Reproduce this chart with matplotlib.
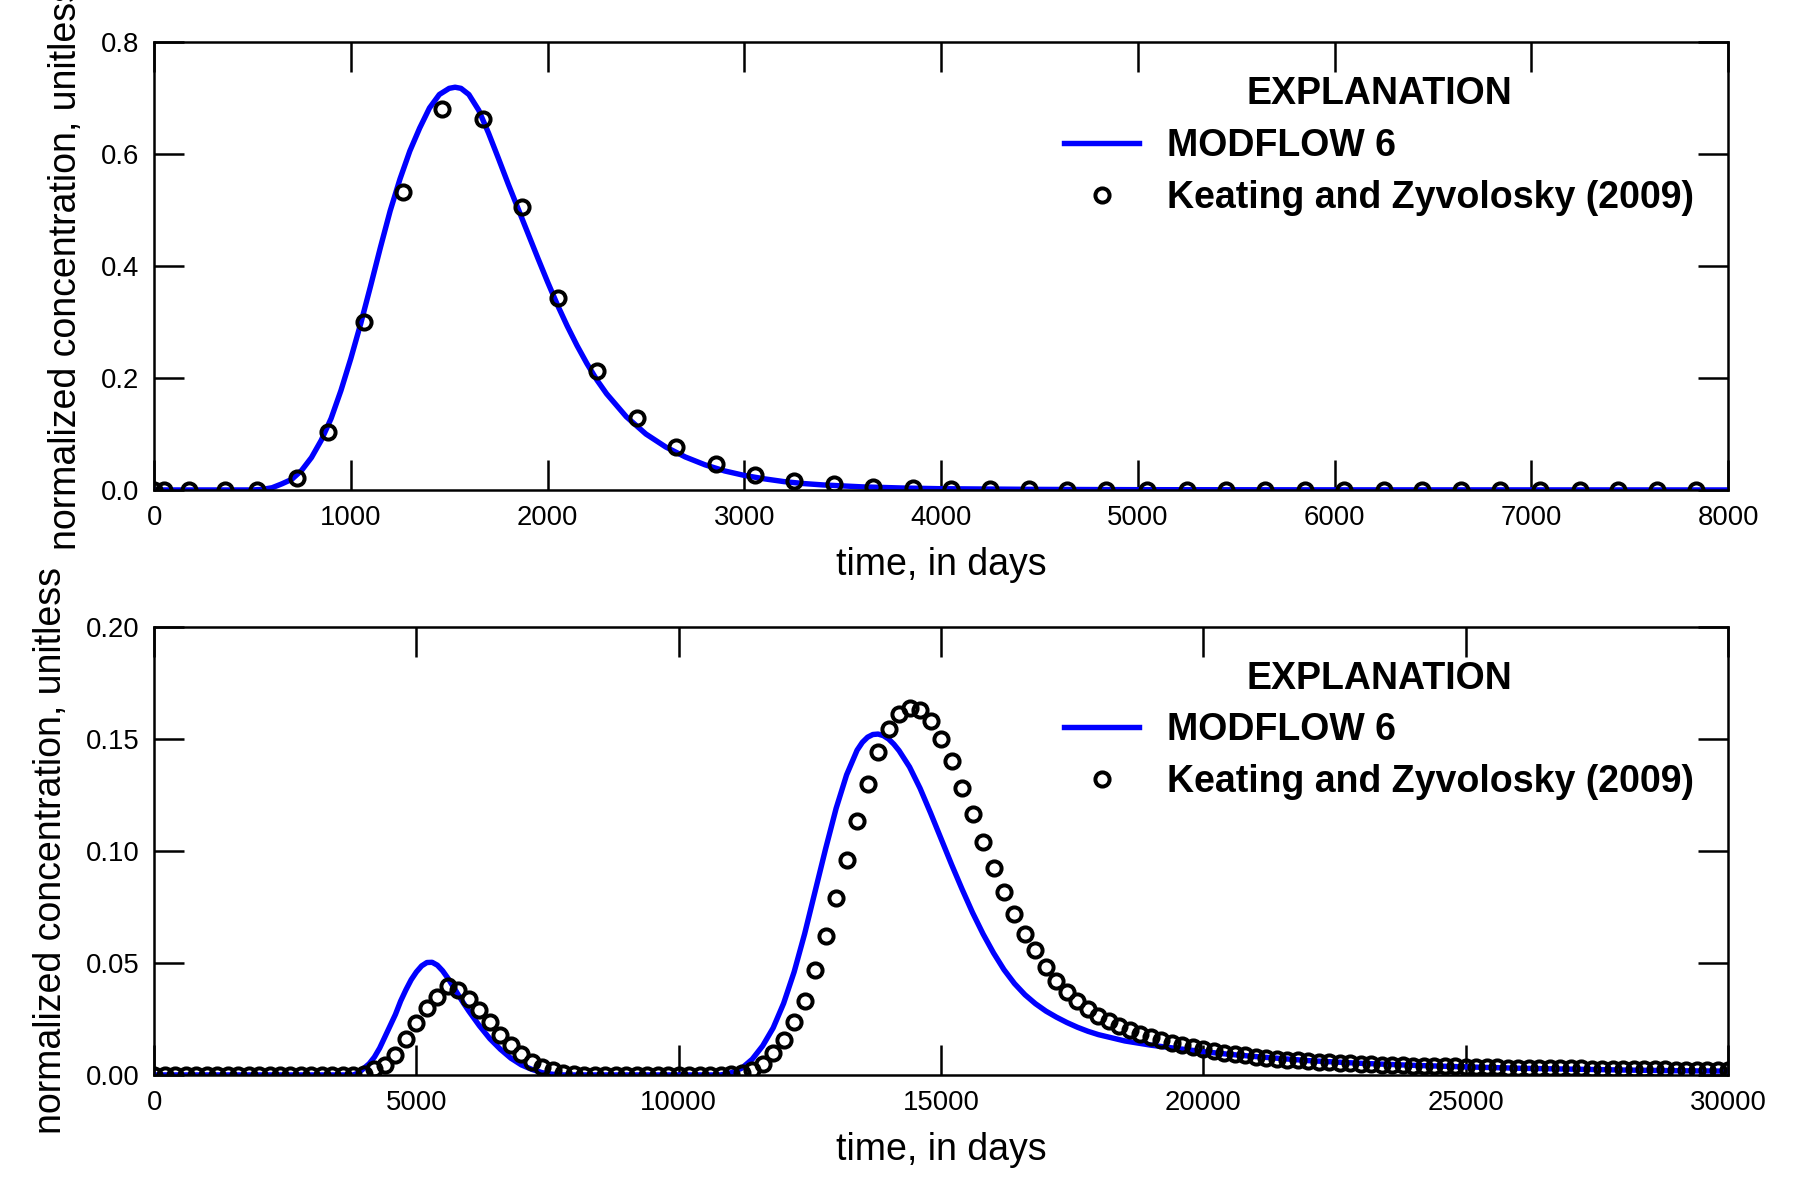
import numpy as np
import matplotlib
matplotlib.use("Agg")
import matplotlib.pyplot as plt

plt.rcParams["font.family"] = ["Liberation Sans", "DejaVu Sans"]

# ---- top panel: MODFLOW 6 line
t_top_mf6 = [0, 500, 550, 600, 650, 700, 750, 800, 850, 900, 950, 1000, 1050,
             1100, 1150, 1200, 1250, 1300, 1350, 1400, 1450, 1500, 1530, 1560,
             1600, 1650, 1700, 1750, 1800, 1850, 1900, 1950, 2000, 2050, 2100,
             2150, 2200, 2250, 2300, 2400, 2500, 2600, 2700, 2800, 2900, 3000,
             3100, 3200, 3300, 3400, 3600, 3800, 4000, 4500, 5000, 6000, 8000]
c_top_mf6 = [0.0, 0.0, 0.001, 0.004, 0.011, 0.019, 0.035, 0.058, 0.089, 0.128,
             0.178, 0.235, 0.297, 0.364, 0.433, 0.499, 0.556, 0.606, 0.647,
             0.683, 0.707, 0.718, 0.720, 0.718, 0.707, 0.679, 0.638, 0.593,
             0.547, 0.503, 0.459, 0.415, 0.372, 0.331, 0.293, 0.258, 0.226,
             0.197, 0.172, 0.131, 0.100, 0.077, 0.059, 0.045, 0.034, 0.026,
             0.020, 0.015, 0.0115, 0.009, 0.0055, 0.0035, 0.0022, 0.001, 0.0005,
             0.0002, 0.0]

# ---- top panel: Keating and Zyvolosky (2009) points
t_top_kz = [0, 50, 175, 360, 525, 725, 885, 1065, 1265, 1465, 1670, 1870, 2055,
            2250, 2455, 2655, 2855, 3055, 3255, 3455, 3655, 3855, 4050, 4250,
            4445, 4640, 4840, 5045, 5250, 5450, 5645, 5850, 6050, 6250, 6445,
            6645, 6840, 7045, 7250, 7440, 7640, 7835]
c_top_kz = [0.0, 0.0, 0.0, 0.0, 0.0, 0.021, 0.104, 0.300, 0.532, 0.681, 0.663,
            0.505, 0.343, 0.212, 0.128, 0.077, 0.0465, 0.027, 0.016, 0.010,
            0.006, 0.004, 0.002, 0.0015, 0.001, 0.0008, 0.0006, 0.0005, 0.0004,
            0.0003, 0.0002, 0.0002, 0.0001, 0.0001, 0.0, 0.0, 0.0, 0.0, 0.0,
            0.0, 0.0, 0.0]

# ---- bottom panel: MODFLOW 6 line
t_bot_mf6 = [0, 3800, 3900, 4000, 4100, 4200, 4300, 4400, 4500, 4600, 4700, 4800,
             4900, 5000, 5100, 5200, 5300, 5400, 5500, 5600, 5700, 5800, 5900,
             6000, 6200, 6400, 6600, 6800, 7000, 7200, 7400, 7600, 7800, 10800,
             11000, 11200, 11400, 11600, 11800, 12000, 12200, 12400, 12600, 12800,
             13000, 13200, 13400, 13500, 13600, 13700, 13800, 13900, 14000, 14100,
             14200, 14400, 14600, 14800, 15000, 15200, 15400, 15600, 15800, 16000,
             16200, 16400, 16600, 16800, 17000, 17200, 17400, 17600, 17800, 18000,
             18500, 19000, 19500, 20000, 20500, 21000, 22000, 23000, 24000, 25000,
             26000, 27000, 28000, 29000, 30000]
c_bot_mf6 = [0.0, 0.0, 0.001, 0.003, 0.005, 0.008, 0.012, 0.017, 0.022, 0.027,
             0.033, 0.038, 0.0425, 0.046, 0.0487, 0.0502, 0.0503, 0.049, 0.0465,
             0.0432, 0.0395, 0.0357, 0.032, 0.0285, 0.022, 0.0162, 0.0115, 0.0075,
             0.0045, 0.0025, 0.001, 0.0003, 0.0, 0.0,
             0.001, 0.003, 0.007, 0.013, 0.021, 0.032, 0.046, 0.063, 0.082, 0.101,
             0.119, 0.134, 0.145, 0.1485, 0.1508, 0.152, 0.1522, 0.1515, 0.150,
             0.1477, 0.1448, 0.1375, 0.128, 0.117, 0.1055, 0.094, 0.083, 0.0725,
             0.063, 0.0545, 0.047, 0.0408, 0.0358, 0.0318, 0.0285, 0.0258, 0.0234,
             0.0213, 0.0195, 0.018, 0.0152, 0.0133, 0.0118, 0.0104, 0.0092, 0.0082,
             0.0064, 0.0052, 0.0043, 0.0036, 0.0030, 0.0026, 0.0022, 0.0019, 0.0017]

# ---- bottom panel: Keating and Zyvolosky (2009) points, every 200 days
t_bot_kz = np.arange(0, 30001, 200)
c_bot_kz = [0.0] * 20 + [
    0.0005,
    0.0025, 0.0045, 0.009, 0.016, 0.023, 0.030, 0.035, 0.0395, 0.038, 0.034,
    0.029, 0.0235, 0.018, 0.0135, 0.0095, 0.006, 0.0035, 0.002, 0.001, 0.0005,
] + [0.0] * 14 + [
    0.0005, 0.001, 0.002, 0.005, 0.010, 0.0157, 0.0235, 0.033, 0.047, 0.062,
    0.079, 0.096, 0.1135, 0.130, 0.144, 0.1545, 0.161, 0.1637, 0.1628, 0.158,
    0.150, 0.140, 0.128, 0.1165, 0.104, 0.0925, 0.0816, 0.0717, 0.0629, 0.0558,
    0.0484, 0.0420, 0.0370, 0.0328, 0.0293, 0.0264, 0.0240, 0.0219, 0.0200, 0.0184,
    0.0169, 0.0156, 0.0144, 0.0133, 0.0123, 0.0114, 0.0106, 0.0099, 0.0093, 0.0087,
    0.0082, 0.0077, 0.0073, 0.0069, 0.0065, 0.0062, 0.0059, 0.0056, 0.0054, 0.0052,
    0.0050, 0.0048, 0.0046, 0.0045, 0.0043, 0.0042, 0.0041, 0.0040, 0.0039, 0.0038,
    0.0037, 0.0036, 0.0035, 0.0034, 0.0033, 0.0033, 0.0032, 0.0031, 0.0031, 0.0030,
    0.0029, 0.0029, 0.0028, 0.0028, 0.0027, 0.0027, 0.0026, 0.0026, 0.0025, 0.0025,
    0.0024, 0.0024, 0.0024, 0.0023, 0.0023, 0.0023,
]

xticks_top = [0, 1000, 2000, 3000, 4000, 5000, 6000, 7000, 8000]
yticks_top = [0.0, 0.2, 0.4, 0.6, 0.8]
xticks_bot = [0, 5000, 10000, 15000, 20000, 25000, 30000]
yticks_bot = [0.00, 0.05, 0.10, 0.15, 0.20]

fig = plt.figure(figsize=(6, 4), dpi=300)
ax1 = fig.add_axes([0.0856, 0.5917, 0.8744, 0.3729])
ax2 = fig.add_axes([0.0856, 0.1042, 0.8744, 0.3733])

panels = [
    (ax1, t_top_mf6, c_top_mf6, t_top_kz, c_top_kz, xticks_top, yticks_top, "%.1f"),
    (ax2, t_bot_mf6, c_bot_mf6, t_bot_kz, c_bot_kz, xticks_bot, yticks_bot, "%.2f"),
]

for ax, tm, cm, tk, ck, xt, yt, fmt in panels:
    ax.plot(tm, cm, color="#0000ff", lw=1.3, label="MODFLOW 6")
    ax.plot(tk, ck, ls="none", marker="o", ms=3.4, mew=0.95, mfc="none",
            mec="black", label="Keating and Zyvolosky (2009)")
    ax.set_xlim(xt[0], xt[-1])
    ax.set_ylim(yt[0], yt[-1])
    ax.set_xticks(xt)
    ax.set_yticks(yt)
    ax.set_yticklabels([fmt % v for v in yt])
    ax.tick_params(direction="in", top=True, right=True, length=7.2, width=0.6,
                   labelsize=6.6, pad=3.5)
    for s in ax.spines.values():
        s.set_linewidth(0.6)
    ax.set_xlabel("time, in days", fontsize=9)
    ax.set_ylabel("normalized concentration, unitless", fontsize=9)
    leg = ax.legend(loc="upper right", frameon=False, numpoints=1,
                    title="EXPLANATION", prop={"weight": "bold", "size": 9},
                    handletextpad=0.75, labelspacing=0.42)
    leg.get_title().set_fontweight("bold")
    leg.get_title().set_fontsize(9)

fig.savefig("out.png", dpi=300)
